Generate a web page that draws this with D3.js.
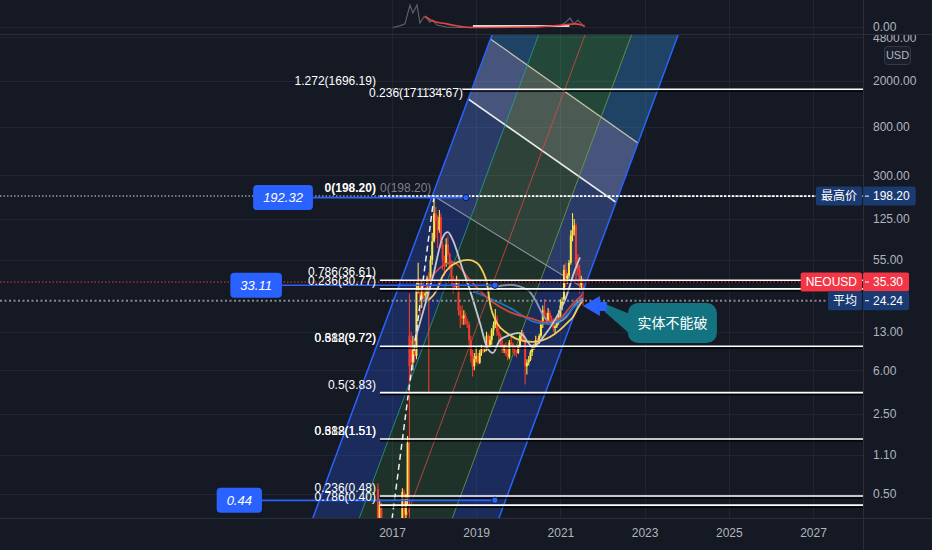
<!DOCTYPE html>
<html>
<head>
<meta charset="utf-8">
<script src="https://cdn.jsdelivr.net/npm/d3@7/dist/d3.min.js"></script>
<style>
body { margin: 0; background: #151924; }
svg { display: block; font-family: "Liberation Sans", Arial, sans-serif; }
</style>
</head>
<body>
<svg id="chart" width="932" height="550"></svg>
<script>
// NEOUSD half-month bars: [start, open, high, low, close]
var candles2016 = [
  ["2016-09-01", 0.55, 0.62, 0.28, 0.30], ["2016-09-16", 0.30, 0.45, 0.25, 0.40],
  ["2016-10-01", 0.40, 0.42, 0.18, 0.20], ["2016-10-16", 0.20, 0.22, 0.13, 0.15],
  ["2016-11-01", 0.15, 0.18, 0.12, 0.14], ["2016-11-16", 0.14, 0.16, 0.11, 0.12],
  ["2016-12-01", 0.12, 0.15, 0.10, 0.13], ["2016-12-16", 0.13, 0.16, 0.12, 0.14]
];
var candles2017 = [
  ["2017-01-01", 0.14, 0.18, 0.12, 0.15], ["2017-01-16", 0.15, 0.17, 0.13, 0.14],
  ["2017-02-01", 0.14, 0.19, 0.13, 0.17], ["2017-02-16", 0.17, 0.21, 0.15, 0.19],
  ["2017-03-01", 0.19, 0.26, 0.17, 0.22], ["2017-03-16", 0.22, 0.30, 0.20, 0.25],
  ["2017-04-01", 0.25, 0.56, 0.24, 0.52], ["2017-04-16", 0.52, 0.55, 0.30, 0.33],
  ["2017-05-01", 0.33, 0.50, 0.30, 0.45], ["2017-05-16", 0.45, 1.60, 0.40, 1.40],
  ["2017-06-01", 12, 28, 0.25, 6.5],      ["2017-06-16", 11, 13, 5.5, 7],
  ["2017-07-01", 7, 12, 6, 9],            ["2017-07-16", 9, 11, 7, 8],
  ["2017-08-01", 8, 35, 7.5, 30],         ["2017-08-16", 30, 52, 28, 35],
  ["2017-09-01", 35, 38, 18, 25],         ["2017-09-16", 25, 36, 21, 32],
  ["2017-10-01", 32, 35, 25, 27],         ["2017-10-16", 27, 30, 24, 28],
  ["2017-11-01", 28, 40, 26, 38],         ["2017-11-16", 38, 43, 3.9, 36],
  ["2017-12-01", 36, 60, 34, 55],         ["2017-12-16", 55, 95, 50, 80]
];
var candles2018 = [
  ["2018-01-01", 80, 198.2, 78, 140], ["2018-01-16", 140, 160, 85, 120],
  ["2018-02-01", 120, 135, 70, 100],  ["2018-02-16", 100, 150, 95, 130],
  ["2018-03-01", 130, 140, 70, 75],   ["2018-03-16", 75, 80, 45, 55],
  ["2018-04-01", 55, 60, 40, 50],     ["2018-04-16", 50, 85, 48, 75],
  ["2018-05-01", 75, 90, 60, 62],     ["2018-05-16", 62, 64, 45, 48],
  ["2018-06-01", 48, 55, 33, 35],     ["2018-06-16", 35, 40, 28, 34],
  ["2018-07-01", 34, 38, 30, 32],     ["2018-07-16", 32, 40, 30, 35],
  ["2018-08-01", 35, 36, 18, 20],     ["2018-08-16", 20, 22, 14, 18],
  ["2018-09-01", 18, 22, 15, 17],     ["2018-09-16", 17, 20, 15, 18],
  ["2018-10-01", 18, 19, 15, 16],     ["2018-10-16", 16, 17, 14, 15],
  ["2018-11-01", 15, 16, 10, 11],     ["2018-11-16", 11, 12, 7, 8],
  ["2018-12-01", 8, 9, 5.3, 6.5],     ["2018-12-16", 6.5, 8.5, 6, 7.5]
];
var candles2019 = [
  ["2019-01-01", 7.5, 9.5, 7, 8],     ["2019-01-16", 8, 8.5, 6.7, 7],
  ["2019-02-01", 7, 9, 6.8, 8.5],     ["2019-02-16", 8.5, 10, 8, 9.2],
  ["2019-03-01", 9.2, 9.5, 8.5, 8.8], ["2019-03-16", 8.8, 9.5, 8.6, 9],
  ["2019-04-01", 9, 13, 8.8, 12],     ["2019-04-16", 12, 12.5, 9.5, 10],
  ["2019-05-01", 10, 12, 9.5, 11],    ["2019-05-16", 11, 14, 10, 13.5],
  ["2019-06-01", 13.5, 16, 12, 15],   ["2019-06-16", 15, 20.5, 14, 17],
  ["2019-07-01", 17, 18, 12, 13],     ["2019-07-16", 13, 14, 10.5, 12],
  ["2019-08-01", 12, 12.5, 9.5, 10],  ["2019-08-16", 10, 11, 8.5, 9],
  ["2019-09-01", 9, 10, 8.5, 9.5],    ["2019-09-16", 9.5, 10.5, 8, 8.3],
  ["2019-10-01", 8.3, 9.5, 7.3, 7.8], ["2019-10-16", 7.8, 11, 7.5, 10.5],
  ["2019-11-01", 10.5, 12, 9.8, 10.2],["2019-11-16", 10.2, 10.5, 8.5, 9],
  ["2019-12-01", 9, 9.5, 8, 8.6],     ["2019-12-16", 8.6, 9, 7.8, 8.5]
];
var candles2020 = [
  ["2020-01-01", 8.5, 10, 8.3, 9.8],  ["2020-01-16", 9.8, 12.5, 9.5, 12],
  ["2020-02-01", 12, 13.5, 11, 12.5], ["2020-02-16", 12.5, 13, 11, 11.5],
  ["2020-03-01", 11.5, 12, 4.5, 6.5], ["2020-03-16", 6.5, 7.5, 5.5, 7],
  ["2020-04-01", 7, 8, 6.6, 7.4],     ["2020-04-16", 7.4, 9, 7.2, 8.6],
  ["2020-05-01", 8.6, 10, 8, 9.5],    ["2020-05-16", 9.5, 10.2, 9, 9.7],
  ["2020-06-01", 9.7, 12, 9.5, 11],   ["2020-06-16", 11, 11.5, 10, 10.5],
  ["2020-07-01", 10.5, 12.5, 10.2, 12],["2020-07-16", 12, 16, 11.5, 15],
  ["2020-08-01", 15, 22, 14, 20],     ["2020-08-16", 20, 25, 17, 18],
  ["2020-09-01", 18, 19, 15, 16],     ["2020-09-16", 16, 21, 15, 19],
  ["2020-10-01", 19, 20, 16, 17],     ["2020-10-16", 17, 18, 15, 16],
  ["2020-11-01", 16, 17, 13, 14],     ["2020-11-16", 14, 15, 12.5, 14.5],
  ["2020-12-01", 14.5, 17, 14, 16],   ["2020-12-16", 16, 20, 15, 18]
];
var candles2021 = [
  ["2021-01-01", 18, 25, 16, 22],     ["2021-01-16", 22, 26, 20, 24],
  ["2021-02-01", 24, 50, 23, 45],     ["2021-02-16", 45, 52, 32, 38],
  ["2021-03-01", 38, 42, 34, 40],     ["2021-03-16", 40, 55, 38, 52],
  ["2021-04-01", 52, 100, 50, 90],    ["2021-04-16", 90, 141, 80, 100],
  ["2021-05-01", 100, 125, 90, 110],  ["2021-05-16", 110, 115, 35, 50],
  ["2021-06-01", 50, 62, 40, 45],     ["2021-06-16", 45, 50, 28, 33],
  ["2021-07-01", 33, 40, 30, 36],     ["2021-07-16", 36, 38, 22, 35.3]
];

// moving averages: [date, price]
var maYellow = [["2017-11-15", 24.6], ["2018-01-25", 30], ["2018-03-18", 40], ["2018-05-18", 47.8],
  ["2018-07-26", 52.7], ["2018-10-25", 55], ["2019-01-08", 51.7], ["2019-03-01", 43.2],
  ["2019-04-04", 34.6], ["2019-04-30", 23.2], ["2019-06-30", 15.5], ["2019-09-25", 12.7],
  ["2020-01-15", 11], ["2020-05-07", 10.6], ["2020-10-02", 11.7], ["2020-12-28", 13.5],
  ["2021-03-08", 15.8], ["2021-04-20", 17.5], ["2021-06-02", 21], ["2021-07-15", 24.6]];
var maGray = [["2017-07-19", 11], ["2017-08-31", 15.5], ["2017-12-21", 39], ["2018-03-18", 87],
  ["2018-04-30", 96], ["2018-06-13", 82], ["2018-08-30", 47.8], ["2018-11-08", 30],
  ["2019-02-03", 15.5], ["2019-04-04", 9.6], ["2019-05-26", 8.5], ["2019-07-26", 11],
  ["2019-10-21", 12.2], ["2020-01-15", 12.7], ["2020-05-07", 9.6], ["2020-08-19", 12.2],
  ["2020-11-14", 16.5], ["2021-02-10", 24.6], ["2021-05-07", 45], ["2021-06-20", 58]];
var maRed = [["2017-10-13", 30], ["2018-01-08", 42.3], ["2018-06-13", 52.7], ["2018-11-08", 36.7],
  ["2019-04-30", 24.6], ["2019-10-21", 19.3], ["2020-04-11", 17.1], ["2020-08-19", 15.8],
  ["2020-12-28", 17.1], ["2021-04-11", 22.3], ["2021-07-07", 27.2]];
var maBlue = [["2018-12-21", 28.9], ["2019-10-21", 21], ["2020-05-25", 15.8], ["2020-10-02", 15.2],
  ["2021-02-10", 17.8], ["2021-05-07", 21.8], ["2021-07-15", 24.6]];
var maPale = [["2018-12-04", 28.9], ["2019-04-30", 31.3], ["2019-10-21", 33.3], ["2020-03-25", 30],
  ["2020-06-11", 23.2], ["2020-08-19", 17.1], ["2020-11-14", 15.5], ["2021-02-10", 17.1],
  ["2021-05-07", 22.3], ["2021-07-15", 25.5]];

// indicator strip at the top
var miniGray = [["2017-01-08", 0], ["2017-03-10", 0.07], ["2017-04-23", 0.16], ["2017-06-06", 1.0],
  ["2017-07-01", 0.64], ["2017-08-06", 1.0], ["2017-08-31", 0.2], ["2017-10-04", 0.47],
  ["2017-10-30", 0.42], ["2017-11-25", 0.24], ["2017-12-21", 0.33], ["2018-01-25", 0.11],
  ["2018-04-21", 0.02], ["2018-08-14", 0], ["2019-06-20", 0.04], ["2020-01-15", 0.02],
  ["2020-12-28", 0.07], ["2021-02-18", 0.24], ["2021-03-25", 0.42], ["2021-04-28", 0.16],
  ["2021-06-02", 0.33], ["2021-07-30", 0.02]];
var miniRed = [["2017-10-13", 0.51], ["2017-12-21", 0.29], ["2018-04-21", 0.16], ["2018-11-08", 0],
  ["2020-04-11", 0.02], ["2021-01-19", 0.11], ["2021-05-07", 0.16], ["2021-07-30", 0.07]];
var miniFlat = [["2018-12-04", 0.07], ["2021-03-20", 0.07]];

// price and time axes
var priceTicks = [4800, 2000, 800, 300, 125, 55, 13, 6, 2.5, 1.1, 0.5];
var yearTicks = ["2017-01-01", "2019-01-01", "2021-01-01", "2023-01-01", "2025-01-01", "2027-01-01"];

// fib levels and their labels
var fibPrices = [1696.19, 36.61, 30.77, 9.72, 3.83, 1.51, 0.48, 0.40];
var fibLabels = [["1.272(1696.19)", 1696.19], ["0.786(36.61)", 36.61], ["0.236(30.77)", 30.77],
  ["0.618(9.72)", 9.72], ["0.382(9.72)", 9.72], ["0.5(3.83)", 3.83],
  ["0.618(1.51)", 1.51], ["0.382(1.51)", 1.51], ["0.236(0.48)", 0.48], ["0.786(0.40)", 0.40]];
var fibTopLabel = ["0.236(171134.67)", 1696.19];
var fibZero = ["0(198.20)", 198.20];

// fib channel and fan lines: [date, price] anchors
var chLeft = [["2014-08-18", 0.1], ["2019-09-05", 10000]];
var chRight = [["2019-01-18", 0.1], ["2024-02-05", 10000]];
var fanGray = [["2018-01-01", 198.2], ["2021-09-13", 28.9]];
var fanWhite = [["2018-11-06", 1366], ["2022-05-06", 172.6]];
var fanTop = [["2019-05-17", 4556], ["2022-11-04", 575.6]];
var dashLine = [["2018-01-01", 198.2], ["2017-01-01", 0.3]];

// price markers (blue boxes) and right-axis labels
var markerLabels = ["192.32", "33.11", "0.44"];
var markerPrices = [192.32, 33.11, 0.44];
var markerFrom = ["2015-02-15", "2014-05-22", "2013-11-30"];
var markerTo = ["2018-10-04", "2019-06-13", "2019-06-13"];
var axisNames = ["最高价", "NEOUSD", "平均"];
var axisValues = [198.20, 35.30, 24.24];
var lastPrice = 35.30, avgPrice = 24.24, highPrice = 198.20;
var note = ["实体不能破", "2021-07-15", 21.8];

var parseDate = d3.timeParse("%Y-%m-%d");
var fmt = d3.format(".2f");
var bg = "#151924", gridColor = "#212532", textColor = "#b2b5be";
var upColor = "#fbe54a", downColor = "#f5392c";
var plotRight = 863, plotTop = 35, plotBottom = 518;

var svg = d3.select("#chart");
svg.append("rect").attr("width", 932).attr("height", 550).attr("fill", bg);

var x = d3.scaleTime()
    .domain([parseDate("2017-01-01"), parseDate("2027-01-01")])
    .range([392, 813]);
var y = d3.scaleLog()
    .domain([2000, 0.5])
    .range([81, 494]);
var yMini = d3.scaleLinear().domain([0, 1]).range([27.5, 5]);

function P(d) { return [x(parseDate(d[0])), y(d[1])]; }
function lerp(a, b, t) { return [a[0] + (b[0] - a[0]) * t, a[1] + (b[1] - a[1]) * t]; }
function extend(a, b) {
  var p = P(a), q = P(b), k = (q[1] - p[1]) / (q[0] - p[0]);
  return [[200, p[1] + (200 - p[0]) * k], [800, p[1] + (800 - p[0]) * k]];
}
function pts(list) { return list.map(function(p) { return p.join(","); }).join(" "); }

var defs = svg.append("defs");
defs.append("clipPath").attr("id", "mainClip").append("rect")
    .attr("x", 0).attr("y", plotTop).attr("width", plotRight).attr("height", plotBottom - plotTop);
defs.append("clipPath").attr("id", "axisClip").append("rect")
    .attr("x", 0).attr("y", plotTop).attr("width", 80).attr("height", plotBottom - plotTop);
defs.append("clipPath").attr("id", "miniClip").append("rect")
    .attr("x", 0).attr("y", 0).attr("width", plotRight).attr("height", 34);

var L0 = P(chLeft[0]), L1 = P(chLeft[1]), R0 = P(chRight[0]), R1 = P(chRight[1]);
defs.append("clipPath").attr("id", "chanClip").append("polygon")
    .attr("points", pts([L0, L1, R1, R0]));

// grid
var grid = svg.append("g").attr("stroke", gridColor).attr("stroke-width", 1);
grid.selectAll(null).data(priceTicks).enter().append("line")
    .attr("x1", 0).attr("x2", plotRight)
    .attr("y1", function(d) { return Math.round(y(d)) + 0.5; })
    .attr("y2", function(d) { return Math.round(y(d)) + 0.5; })
    .attr("clip-path", "url(#mainClip)");
grid.selectAll(null).data(yearTicks).enter().append("line")
    .attr("x1", function(d) { return Math.round(x(parseDate(d))) + 0.5; })
    .attr("x2", function(d) { return Math.round(x(parseDate(d))) + 0.5; })
    .attr("y1", 0).attr("y2", plotBottom);
grid.append("line").attr("x1", 0).attr("x2", plotRight).attr("y1", 27.5).attr("y2", 27.5);

var main = svg.append("g").attr("clip-path", "url(#mainClip)");

// fib channel
var chan = main.append("g");
var fracs = [0, 0.25, 0.5, 0.75, 1];
var bandFill = ["rgba(41,98,255,0.26)", "rgba(76,175,80,0.17)", "rgba(76,175,80,0.17)", "rgba(41,98,255,0.26)"];
chan.selectAll(null).data(d3.range(4)).enter().append("polygon")
    .attr("points", function(i) {
      return pts([lerp(L0, R0, fracs[i]), lerp(L1, R1, fracs[i]), lerp(L1, R1, fracs[i + 1]), lerp(L0, R0, fracs[i + 1])]);
    })
    .attr("fill", function(i) { return bandFill[i]; });

var fan = chan.append("g").attr("clip-path", "url(#chanClip)");
var eG = extend(fanGray[0], fanGray[1]), eW = extend(fanWhite[0], fanWhite[1]), eT = extend(fanTop[0], fanTop[1]);
var regions = [
  [[eG[0], eG[1], eW[1], eW[0]], "rgba(255,255,255,0.08)"],
  [[eW[0], eW[1], eT[1], eT[0]], "rgba(255,255,255,0.2)"],
  [[eT[0], eT[1], [800, -100], [200, -100]], "rgba(60,190,140,0.16)"]
];
fan.selectAll(null).data(regions).enter().append("polygon")
    .attr("points", function(r) { return pts(r[0]); })
    .attr("fill", function(r) { return r[1]; });
var fanLines = [[eG, "#8e909a", 1.2], [eW, "#ececec", 1.6], [eT, "#c9c6a8", 1.2]];
fan.selectAll(null).data(fanLines).enter().append("line")
    .attr("x1", function(d) { return d[0][0][0]; }).attr("y1", function(d) { return d[0][0][1]; })
    .attr("x2", function(d) { return d[0][1][0]; }).attr("y2", function(d) { return d[0][1][1]; })
    .attr("stroke", function(d) { return d[1]; })
    .attr("stroke-width", function(d) { return d[2]; });

var chanStroke = ["#2962ff", "#22a894", "#e84a45", "#6fa84a", "#2962ff"];
chan.selectAll(null).data(fracs).enter().append("line")
    .attr("x1", function(f) { return lerp(L0, R0, f)[0]; }).attr("y1", L0[1])
    .attr("x2", function(f) { return lerp(L1, R1, f)[0]; }).attr("y2", L1[1])
    .attr("stroke", function(f, i) { return chanStroke[i]; })
    .attr("stroke-width", function(f, i) { return (i === 0 || i === 4) ? 1.5 : 1; })
    .attr("opacity", function(f, i) { return (i === 0 || i === 4) ? 1 : 0.75; });

// candles
var candles = candles2016.concat(candles2017, candles2018, candles2019, candles2020, candles2021);
var bars = main.append("g").selectAll("g").data(candles).enter().append("g");
function col(d) { return d[4] >= d[1] ? upColor : downColor; }
bars.append("line")
    .attr("x1", function(d) { return x(parseDate(d[0])); })
    .attr("x2", function(d) { return x(parseDate(d[0])); })
    .attr("y1", function(d) { return y(d[2]); })
    .attr("y2", function(d) { return y(d[3]); })
    .attr("stroke", col).attr("stroke-width", 1.1);
bars.append("rect")
    .attr("x", function(d) { return x(parseDate(d[0])) - 1; })
    .attr("width", 2)
    .attr("y", function(d) { return y(Math.max(d[1], d[4])); })
    .attr("height", function(d) { return Math.max(1, Math.abs(y(d[1]) - y(d[4]))); })
    .attr("fill", col);

// moving averages
var maLine = d3.line()
    .x(function(d) { return x(parseDate(d[0])); })
    .y(function(d) { return y(d[1]); })
    .curve(d3.curveMonotoneX);
var maSeries = [[maPale, "#8797bf"], [maBlue, "#1f72c4"], [maRed, "#d2453a"], [maYellow, "#f4cd57"], [maGray, "#c3c8d0"]];
main.selectAll(null).data(maSeries).enter().append("path")
    .attr("d", function(s) { return maLine(s[0]); })
    .attr("fill", "none")
    .attr("stroke", function(s) { return s[1]; })
    .attr("stroke-width", 1.8);

// dashed trend line from the top
var dl = [P(dashLine[0]), P(dashLine[1])];
main.append("line")
    .attr("x1", dl[0][0]).attr("y1", dl[0][1]).attr("x2", dl[1][0]).attr("y2", dl[1][1])
    .attr("stroke", "#eeeeee").attr("stroke-width", 1.5).attr("stroke-dasharray", "6,4");

// fib horizontal levels
var fibStart = x(parseDate("2016-09-18"));
var fib = main.append("g");
fib.selectAll(null).data(fibPrices).enter().append("line")
    .attr("x1", fibStart).attr("x2", plotRight)
    .attr("y1", function(d) { return y(d) + 2; }).attr("y2", function(d) { return y(d) + 2; })
    .attr("stroke", "#000").attr("stroke-width", 1.2);
fib.selectAll(null).data(fibPrices).enter().append("line")
    .attr("x1", fibStart).attr("x2", plotRight)
    .attr("y1", function(d) { return y(d); }).attr("y2", function(d) { return y(d); })
    .attr("stroke", "#ffffff").attr("stroke-width", 1.6);

// dotted price lines
main.append("line").attr("x1", 0).attr("x2", plotRight)
    .attr("y1", y(highPrice)).attr("y2", y(highPrice))
    .attr("stroke", "#9598a1").attr("stroke-width", 1.5).attr("stroke-dasharray", "1.5,2");
main.append("line").attr("x1", fibStart).attr("x2", plotRight)
    .attr("y1", y(highPrice)).attr("y2", y(highPrice))
    .attr("stroke", "#ffffff").attr("stroke-width", 1.8).attr("stroke-dasharray", "2.5,1.5");
main.append("line").attr("x1", 0).attr("x2", plotRight)
    .attr("y1", y(lastPrice)).attr("y2", y(lastPrice))
    .attr("stroke", "#f23645").attr("stroke-width", 1).attr("stroke-dasharray", "1.5,2");
main.append("line").attr("x1", 0).attr("x2", plotRight)
    .attr("y1", y(avgPrice)).attr("y2", y(avgPrice))
    .attr("stroke", "#868993").attr("stroke-width", 2).attr("stroke-dasharray", "2,2.5");

// blue price markers
var mk = main.append("g");
var mkText = main.append("g").attr("fill", "#fff").attr("font-size", 13).attr("font-style", "italic");
markerLabels.forEach(function(lbl, i) {
  var yy = y(markerPrices[i]), x0 = x(parseDate(markerFrom[i])), x1 = x(parseDate(markerTo[i]));
  mk.append("line").attr("x1", x0).attr("x2", x1).attr("y1", yy).attr("y2", yy)
      .attr("stroke", "#2962ff").attr("stroke-width", 1.6);
  mk.append("circle").attr("cx", x1).attr("cy", yy).attr("r", 3.2)
      .attr("fill", "#2962ff").attr("stroke", "#0d1a40").attr("stroke-width", 1);
  var t = mkText.append("text").attr("x", x0 - 10).attr("y", yy).attr("dy", "0.36em")
      .attr("text-anchor", "end").text(lbl);
  var w = t.node().getComputedTextLength() + 20;
  mk.append("rect").attr("x", x0 - w).attr("y", yy - 12.5).attr("width", w).attr("height", 25)
      .attr("rx", 4).attr("fill", "#2962ff");
});

// fib labels (overlapping pairs stay overlapped, as on the original)
var labelEnd = x(parseDate("2016-08-15"));
var lab = main.append("g").attr("font-size", 12).attr("fill", "#ffffff");
lab.selectAll(null).data(fibLabels).enter().append("text")
    .attr("x", labelEnd).attr("y", function(d) { return y(d[1]) - 4; })
    .attr("text-anchor", "end").text(function(d) { return d[0]; });
lab.append("text").attr("x", x(parseDate("2018-09-08"))).attr("y", y(fibTopLabel[1]) + 8)
    .attr("text-anchor", "end").attr("stroke", bg).attr("stroke-width", 2).attr("paint-order", "stroke")
    .text(fibTopLabel[0]);
lab.append("text").attr("x", labelEnd).attr("y", y(fibZero[1]) - 4)
    .attr("text-anchor", "end").attr("font-weight", "bold").text(fibZero[0]);
lab.append("text").attr("x", labelEnd + 4).attr("y", y(fibZero[1]) - 4)
    .attr("fill", "#7d808a").text(fibZero[0]);

// callout
var tip = P([note[1], note[2]]);
var co = svg.append("g").attr("transform", "translate(" + tip[0] + "," + tip[1] + ")");
co.append("polygon").attr("points", "20,-3 47,8 47,28 22,6").attr("fill", "#137381");
co.append("polygon").attr("points", "0,0 17,-10 17,-4 24,-4 24,5 17,5 17,10").attr("fill", "#2962ff");
co.append("rect").attr("x", 45).attr("y", -3).attr("width", 89).attr("height", 40).attr("rx", 10)
    .attr("fill", "#137381");
co.append("text").attr("x", 89.5).attr("y", 17).attr("dy", "0.36em").attr("text-anchor", "middle")
    .attr("fill", "#fff").attr("font-size", 14).attr("font-family", "'Noto Sans CJK SC', sans-serif")
    .text(note[0]);

// top indicator strip
var miniLine = d3.line()
    .x(function(d) { return x(parseDate(d[0])); })
    .y(function(d) { return yMini(d[1]); });
var mini = svg.append("g").attr("clip-path", "url(#miniClip)").attr("fill", "none");
mini.append("path").attr("d", miniLine(miniGray)).attr("stroke", "#5b5f6b").attr("stroke-width", 1.2);
mini.append("path").attr("d", miniLine(miniFlat)).attr("stroke", "#d8d8d8").attr("stroke-width", 2);
mini.append("path").attr("d", miniLine.curve(d3.curveMonotoneX)(miniRed)).attr("stroke", "#e8453c").attr("stroke-width", 1.6);

// pane borders
svg.append("line").attr("x1", 0).attr("x2", 932).attr("y1", 34.5).attr("y2", 34.5).attr("stroke", "#2a2e39");
svg.append("line").attr("x1", plotRight + 0.5).attr("x2", plotRight + 0.5).attr("y1", 0).attr("y2", 550).attr("stroke", "#2a2e39");
svg.append("line").attr("x1", 0).attr("x2", 932).attr("y1", plotBottom + 0.5).attr("y2", plotBottom + 0.5).attr("stroke", "#2a2e39");

// price axis
var yAxis = svg.append("g").attr("transform", "translate(" + plotRight + ",0)")
    .call(d3.axisRight(y).tickValues(priceTicks).tickFormat(fmt).tickSize(0).tickPadding(10));
yAxis.attr("clip-path", "url(#axisClip)");
yAxis.select(".domain").remove();
yAxis.attr("font-size", 12).attr("font-family", null);
yAxis.selectAll("text").attr("fill", textColor);
svg.append("text").attr("x", plotRight + 10).attr("y", yMini(0)).attr("dy", "0.32em")
    .attr("fill", textColor).attr("font-size", 12).text(fmt(0));

// time axis
var xAxis = svg.append("g").attr("transform", "translate(0," + plotBottom + ")")
    .call(d3.axisBottom(x).tickValues(yearTicks.map(parseDate)).tickFormat(d3.timeFormat("%Y")).tickSize(0).tickPadding(10));
xAxis.select(".domain").remove();
xAxis.attr("font-size", 12).attr("font-family", null);
xAxis.selectAll("text").attr("fill", textColor);

// USD unit box
svg.append("rect").attr("x", 884.5).attr("y", 46.5).attr("width", 26).attr("height", 18).attr("rx", 3)
    .attr("fill", "#1b1f2b").attr("stroke", "#363a45");
svg.append("text").attr("x", 897.5).attr("y", 55.5).attr("dy", "0.35em").attr("text-anchor", "middle")
    .attr("fill", textColor).attr("font-size", 11).text("USD");

// right axis labels
var boxColors = ["#1a3a72", "#f23645", "#1a3a72"];
var abBox = svg.append("g");
var ab = svg.append("g").attr("font-size", 12).attr("fill", "#fff");
axisNames.forEach(function(name, i) {
  var yy = y(axisValues[i]);
  var nt = ab.append("text").attr("x", plotRight - 6).attr("y", yy).attr("dy", "0.36em")
      .attr("text-anchor", "end").attr("font-family", "'Liberation Sans','Noto Sans CJK SC',sans-serif")
      .text(name);
  var nw = nt.node().getComputedTextLength() + 11;
  abBox.append("rect").attr("x", plotRight - nw).attr("y", yy - 9.5).attr("width", nw - 1).attr("height", 19)
      .attr("rx", 2).attr("fill", boxColors[i]);
  var vt = ab.append("text").attr("x", plotRight + 10).attr("y", yy).attr("dy", "0.36em").text(fmt(axisValues[i]));
  var vw = vt.node().getComputedTextLength() + 16;
  abBox.append("rect").attr("x", plotRight).attr("y", yy - 9.5).attr("width", vw).attr("height", 19)
      .attr("rx", 2).attr("fill", boxColors[i]);
  ab.append("line").attr("x1", plotRight + 2).attr("x2", plotRight + 6).attr("y1", yy).attr("y2", yy)
      .attr("stroke", "#fff").attr("stroke-width", 1);
});
</script>
</body>
</html>
